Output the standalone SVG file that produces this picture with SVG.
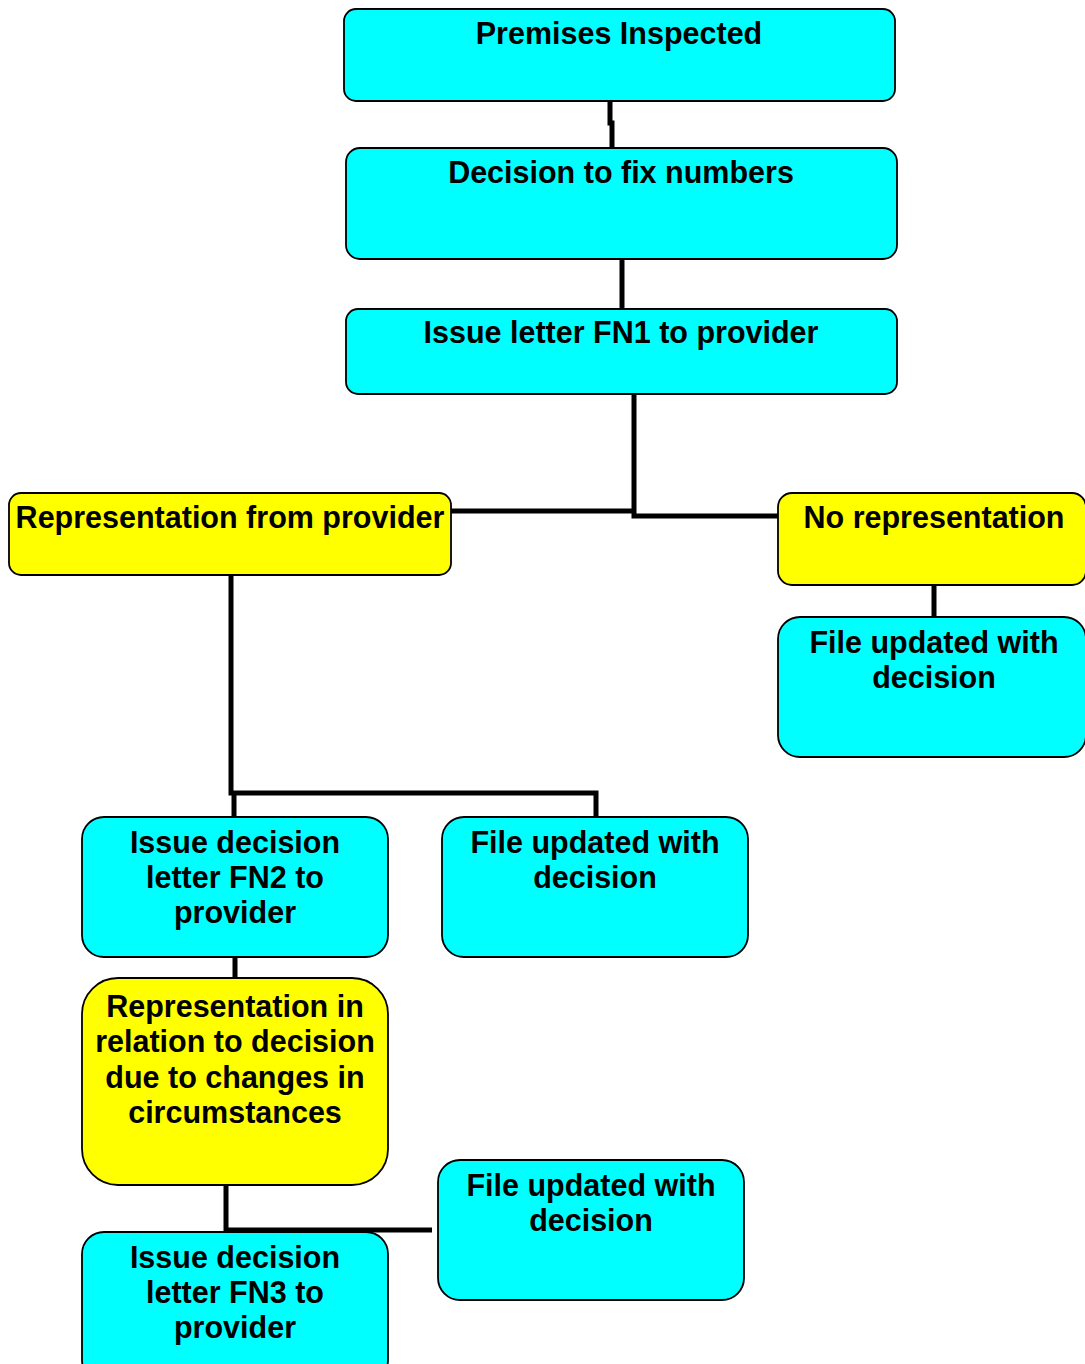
<svg xmlns="http://www.w3.org/2000/svg" width="1085" height="1364" viewBox="0 0 1085 1364">
<style>
.c{fill:#00FFFF;stroke:#000;stroke-width:1.8}
.y{fill:#FFFF00;stroke:#000;stroke-width:1.8}
text{font-family:"Liberation Sans",Arial,sans-serif;font-weight:bold;font-size:30.5px;text-anchor:middle;fill:#000}
.e{fill:none;stroke:#000;stroke-width:5}
</style>
<rect width="1085" height="1364" fill="#fff"/>
<g id="connectors">
<path class="e" d="M610,101 V123 H612 V148"/>
<path class="e" d="M622,259 V309"/>
<path class="e" d="M634,394 V516 H778"/>
<path class="e" d="M451,511 H634"/>
<path class="e" d="M231,575 V793 H596 V817"/>
<path class="e" d="M234,793 V817"/>
<path class="e" d="M934,585 V617"/>
<path class="e" d="M235,957 V978"/>
<path class="e" d="M226,1185 V1230 H432"/>
</g>
<g id="n1"><rect class="c" x="344" y="9" width="551" height="92" rx="12"/><text x="619" y="44">Premises Inspected</text></g>
<g id="n2"><rect class="c" x="346" y="148" width="551" height="111" rx="14"/><text x="621" y="183">Decision to fix numbers</text></g>
<g id="n3"><rect class="c" x="346" y="309" width="551" height="85" rx="12"/><text x="621" y="343">Issue letter FN1 to provider</text></g>
<g id="n4"><rect class="y" x="9" y="493" width="442" height="82" rx="12"/><text x="230" y="528">Representation from provider</text></g>
<g id="n5"><rect class="y" x="778" y="493" width="308" height="92" rx="14"/><text x="934" y="528">No representation</text></g>
<g id="n6"><rect class="c" x="778" y="617" width="308" height="140" rx="22"/><text x="934" y="653">File updated with</text><text x="934" y="688">decision</text></g>
<g id="n7"><rect class="c" x="82" y="817" width="306" height="140" rx="22"/><text x="235" y="853">Issue decision</text><text x="235" y="888">letter FN2 to</text><text x="235" y="923">provider</text></g>
<g id="n8"><rect class="c" x="442" y="817" width="306" height="140" rx="22"/><text x="595" y="853">File updated with</text><text x="595" y="888">decision</text></g>
<g id="n9"><rect class="y" x="82" y="978" width="306" height="207" rx="36"/><text x="235" y="1017">Representation in</text><text x="235" y="1052">relation to decision</text><text x="235" y="1088">due to changes in</text><text x="235" y="1123">circumstances</text></g>
<g id="n10"><rect class="c" x="438" y="1160" width="306" height="140" rx="22"/><text x="591" y="1196">File updated with</text><text x="591" y="1231">decision</text></g>
<g id="n11"><rect class="c" x="82" y="1232" width="306" height="150" rx="22"/><text x="235" y="1268">Issue decision</text><text x="235" y="1303">letter FN3 to</text><text x="235" y="1338">provider</text></g>
</svg>
